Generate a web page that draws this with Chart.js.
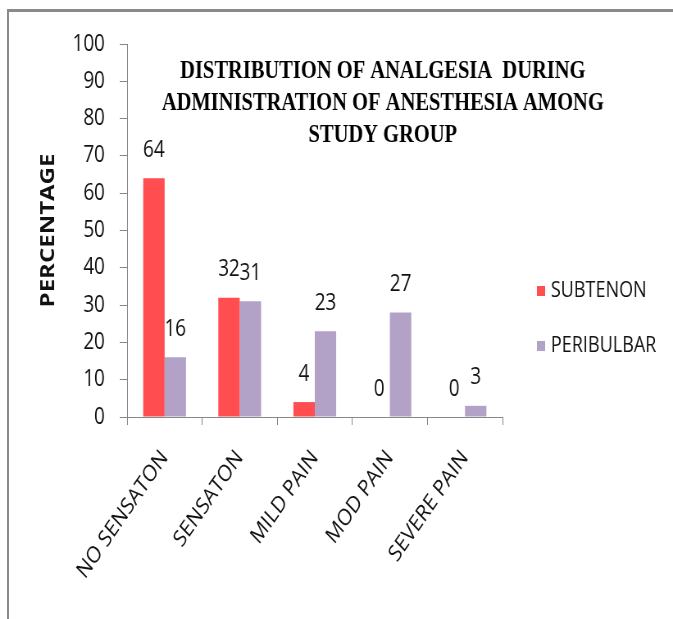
<!DOCTYPE html>
<html><head><meta charset="utf-8">
<script src="https://cdn.jsdelivr.net/npm/chart.js@4.4.0/dist/chart.umd.min.js"></script>
<style>
html,body{margin:0;padding:0;background:#fff;overflow:hidden;width:673px;height:619px;}
#frame{position:absolute;left:7px;top:9px;width:720px;height:720px;border-top:3px solid #8a8a8a;border-left:2px solid #8a8a8a;}
#wrap{position:absolute;left:0;top:0;width:821px;height:619px;transform:scaleX(0.81973);transform-origin:0 0;}
canvas{display:block;}
</style></head><body>
<div id="frame"></div>
<div id="wrap"><canvas id="c" width="821" height="619"></canvas></div>
<script>
const categories = ['NO SENSATON', 'SENSATON', 'MILD PAIN', 'MOD PAIN', 'SEVERE PAIN'];
const seriesNames = ['SUBTENON', 'PERIBULBAR'];
const subtenon = [64, 32, 4, 0, 0];
const peribulbar = [16, 31, 23, 28, 3];
const subtenonLabels = ['64', '32', '4', '0', '0'];
const peribulbarLabels = ['16', '31', '23', '27', '3'];
const yMin = 0, yMax = 100, yStep = 10;
const yAxisTitle = 'PERCENTAGE';
const titleLines = ['DISTRIBUTION OF ANALGESIA  DURING', 'ADMINISTRATION OF ANESTHESIA AMONG', 'STUDY GROUP'];

const seriesColors = ['#FF4D50', '#B3A2C8'];
const valueLabels = [subtenonLabels, peribulbarLabels];
const SANS = '"Open Sans", "Noto Sans", sans-serif';
const axisGray = '#878787';

const titlePlugin = {
  id: 'titleText',
  afterDraw(chart) {
    const ctx = chart.ctx;
    ctx.save();
    ctx.font = 'bold 25px "Liberation Serif", serif';
    ctx.fillStyle = '#000';
    ctx.textAlign = 'center';
    ctx.textBaseline = 'middle';
    titleLines.forEach((t, i) => ctx.fillText(t, 467, 72 + i * 32));
    ctx.restore();
  }
};

const valuePlugin = {
  id: 'valueText',
  afterDatasetsDraw(chart) {
    const ctx = chart.ctx;
    ctx.save();
    ctx.font = '23px ' + SANS;
    ctx.fillStyle = '#111';
    ctx.textAlign = 'center';
    ctx.textBaseline = 'middle';
    chart.data.datasets.forEach((ds, di) => {
      chart.getDatasetMeta(di).data.forEach((bar, i) => {
        ctx.fillText(valueLabels[di][i], bar.x, bar.y - 28);
      });
    });
    ctx.restore();
  }
};

const legendPlugin = {
  id: 'sideLegend',
  afterDraw(chart) {
    const ctx = chart.ctx;
    ctx.save();
    ctx.font = '22px ' + SANS;
    ctx.textAlign = 'left';
    ctx.textBaseline = 'middle';
    chart.data.datasets.forEach((ds, i) => {
      const cy = 291 + i * 55;
      ctx.fillStyle = ds.backgroundColor;
      ctx.fillRect(655, cy - 5, 10, 10);
      ctx.fillStyle = '#111';
      ctx.fillText(ds.label, 672, cy);
    });
    ctx.restore();
  }
};

new Chart(document.getElementById('c'), {
  type: 'bar',
  data: {
    labels: categories,
    datasets: [
      { label: seriesNames[0], data: subtenon, backgroundColor: seriesColors[0] },
      { label: seriesNames[1], data: peribulbar, backgroundColor: seriesColors[1] }
    ]
  },
  options: {
    responsive: false,
    animation: false,
    devicePixelRatio: 1,
    categoryPercentage: 0.57,
    barPercentage: 1.0,
    layout: { padding: { left: 41, right: 208, top: 44, bottom: 0 } },
    plugins: { legend: { display: false }, title: { display: false }, tooltip: { enabled: false } },
    scales: {
      x: {
        afterFit(scale) { scale.height = 202; scale.paddingLeft = 0; scale.paddingRight = 0; },
        grid: { display: true, drawOnChartArea: false, drawTicks: true, tickLength: 8, color: axisGray, offset: true },
        border: { display: true, color: axisGray, width: 1 },
        ticks: { autoSkip: false, minRotation: 50, maxRotation: 50, padding: 20, color: '#111', font: { family: SANS, size: 23 } }
      },
      y: {
        min: yMin, max: yMax,
        afterFit(scale) { scale.width = 114; },
        grid: { display: true, drawOnChartArea: false, drawTicks: true, tickLength: 9, color: axisGray },
        border: { display: true, color: axisGray, width: 1 },
        ticks: { stepSize: yStep, padding: 18, color: '#111', font: { family: SANS, size: 23 } },
        title: { display: true, text: yAxisTitle, color: '#111', padding: { top: 4, bottom: 4 }, font: { family: SANS, size: 24, weight: 'bold' } }
      }
    }
  },
  plugins: [titlePlugin, valuePlugin, legendPlugin]
});
</script>
</body></html>
